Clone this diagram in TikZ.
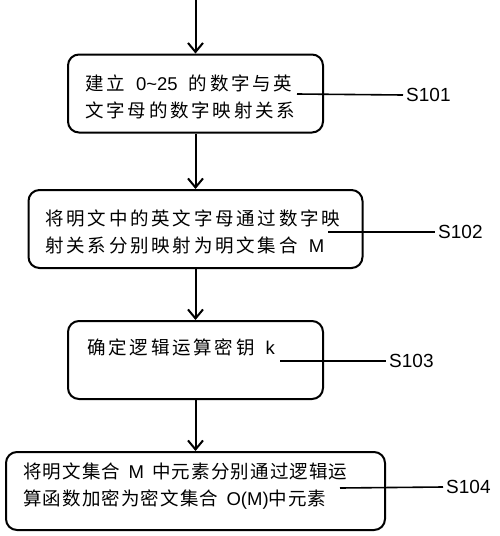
\documentclass[tikz,border=0pt]{standalone}
\usepackage{fontspec}
\setmainfont{Liberation Sans}
\newfontfamily\cjk[LetterSpace=15,WordSpace=1.6]{Noto Sans CJK SC}
\newfontfamily\cjknarrow[LetterSpace=6,WordSpace=1.6]{Noto Sans CJK SC}
\newcommand\lat[1]{{\rmfamily #1}}
\usetikzlibrary{positioning,arrows.meta}

\tikzset{
  stepbox/.style={rectangle, rounded corners=11pt, draw=black, line width=2pt,
    minimum height=78pt},
  steptext/.style={anchor=west, align=left, inner sep=0pt,
    font=\cjk\fontsize{18.5}{27}\selectfont},
  flow/.style={-{Straight Barb[length=9pt,width=15pt]}, line width=2pt},
  tag/.style={anchor=west, inner sep=3pt, font=\fontsize{19}{22}\selectfont},
  leader/.style={line width=1.6pt}
}

\begin{document}
\begin{tikzpicture}[x=1pt,y=-1pt]
  \useasboundingbox (0,0) rectangle (500,536);

  % boxes
  \node[stepbox, minimum width=255pt] at (195.5,93.5) (b1) {};
  \node[stepbox, minimum width=334pt] at (195.5,229) (b2) {};
  \node[stepbox, minimum width=255pt] at (195.5,360) (b3) {};
  \node[stepbox, minimum width=379pt] at (195.5,491) (b4) {};

  % texts
  \node[steptext] at (85,96.5) (t1) {建立 \lat{0\textasciitilde25} 的数字与英\\文字母的数字映射关系};
  \node[steptext] at (45,231.5) (t2) {将明文中的英文字母通过数字映\\射关系分别映射为明文集合 \lat{M}};
  \node[steptext] at (87,347) (t3) {确定逻辑运算密钥 \lat{k}};
  \node[steptext, font=\cjknarrow\fontsize{18.5}{27}\selectfont] at (23,486.5) (t4)
    {将明文集合 \lat{M} 中元素分别通过逻辑运\\算函数加密为密文集合 \lat{O(M)}中元素};

  % flow
  \coordinate (top) at (195.5,0);
  \draw[flow] (top) -- (b1.north);
  \draw[flow] (b1.south) -- (b2.north);
  \draw[flow] (b2.south) -- (b3.north);
  \draw[flow] (b3.south) -- (b4.north);

  % step labels
  \node[tag] at (403,95) (s1) {S101};
  \node[tag] at (435,232) (s2) {S102};
  \node[tag] at (386,361) (s3) {S103};
  \node[tag] at (443,487) (s4) {S104};

  \coordinate (l1) at (297,94);
  \coordinate (l2) at (328,232);
  \coordinate (l3) at (280,361);
  \coordinate (l4) at (340,488);
  \draw[leader] (l1) -- (s1.west);
  \draw[leader] (l2) -- (s2.west);
  \draw[leader] (l3) -- (s3.west);
  \draw[leader] (l4) -- (s4.west);

\end{tikzpicture}
\end{document}
